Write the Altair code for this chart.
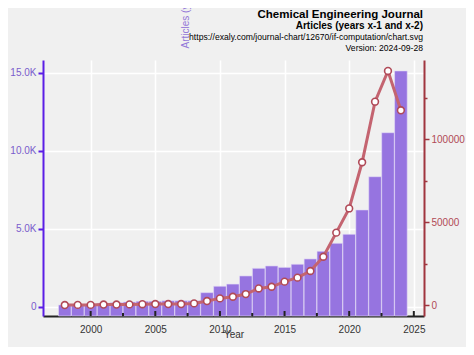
import altair as alt
import pandas as pd

YEARS = list(range(1998, 2025))
ARTICLES = [130, 150, 190, 240, 280, 320, 370, 370, 400, 400, 400, 920, 1330, 1470,
            1990, 2480, 2630, 2540, 2740, 3080, 3570, 4080, 4660, 6220, 8350, 11170, 15130]
CITATIONS = [0, 100, 100, 300, 300, 400, 500, 600, 600, 600, 1000, 2400, 4000, 5000,
             6600, 10000, 11000, 14100, 16500, 20500, 29100, 43600, 58200, 86000,
             122500, 141000, 117300]

X_TICKS = [2000, 2005, 2010, 2015, 2020, 2025]
X_MINOR = [2002.5, 2007.5, 2012.5, 2017.5, 2022.5]
LEFT_TICKS = [0, 5000, 10000, 15000]
RIGHT_TICKS = [0, 25000, 50000, 75000, 100000, 125000]

TITLE = "Chemical Engineering Journal"
SUBTITLE = "Articles (years x-1 and x-2)"
URL = "https://exaly.com/journal-chart/12670/if-computation/chart.svg"
VERSION = "Version: 2024-09-28"

W, H = 381, 256
FONT = "Liberation Sans"
BG = "#f0f0f0"

df = pd.DataFrame({"Year": YEARS, "Articles": ARTICLES, "Citations": CITATIONS})

x_scale = alt.Scale(domain=[1996.7, 2025.4], nice=False, zero=False)
YL_MIN, YL_MAX = -577, 15830
YR_MIN, YR_MAX = -6600, 147600

x_enc = alt.X(
    "Year:Q",
    scale=x_scale,
    axis=alt.Axis(
        values=X_TICKS, format="d", ticks=False, labelPadding=8,
        labelColor="#333333", labelFontSize=10, labelFont=FONT,
        domainColor="#222222", domainWidth=2,
        grid=True, gridColor="white", gridWidth=1.5,
        title="Year", titleFont=FONT, titleFontSize=10, titleFontWeight="normal",
        titleColor="#333333", titleY=21, titleBaseline="alphabetic",
    ),
)

bars = alt.Chart(df).mark_bar(
    color="#9674e0", size=12.6, stroke="#e4dcf6", strokeWidth=0.6
).encode(
    x=x_enc,
    y=alt.Y(
        "Articles:Q",
        scale=alt.Scale(domain=[YL_MIN, YL_MAX], nice=False, zero=False),
        axis=alt.Axis(
            orient="left", values=LEFT_TICKS,
            labelExpr="datum.value == 0 ? '0' : format(datum.value / 1000, '.1f') + 'K'",
            labelColor="#7a5ccc", labelFontSize=10, labelFont=FONT,
            domainColor="#5b1ee6", domainWidth=2,
            tickColor="#5b1ee6", tickSize=5, tickWidth=2,
            grid=True, gridColor="white", gridWidth=1.5,
            title=SUBTITLE, titleFont=FONT, titleFontSize=10, titleFontWeight="normal",
            titleColor="#9478d8", titleAngle=270, titleAlign="left",
            titleBaseline="middle", titleX=142, titleY=-12,
        ),
    ),
    y2=alt.datum(YL_MIN),
)

line = alt.Chart(df).mark_line(
    color="#c46470", strokeWidth=3,
    point=alt.OverlayMarkDef(filled=True, fill="white", stroke="#b04a58",
                             strokeWidth=1.6, size=46, opacity=1),
).encode(
    x=alt.X("Year:Q", scale=x_scale),
    y=alt.Y(
        "Citations:Q",
        scale=alt.Scale(domain=[YR_MIN, YR_MAX], nice=False, zero=False),
        axis=alt.Axis(
            orient="right", values=RIGHT_TICKS, format="d",
            labelExpr="datum.value % 50000 == 0 ? datum.label : ''",
            labelColor="#b04a56", labelFontSize=10, labelFont=FONT,
            domainColor="#a0353f", domainWidth=2,
            tickColor="#a0353f", tickWidth=1.5,
            tickSize={"condition": {"test": "datum.value % 50000 == 0", "value": 5}, "value": 3},
            grid=False, title="",
        ),
    ),
)

major = alt.Chart(pd.DataFrame({"t": X_TICKS})).mark_rule(
    color="#222222", strokeWidth=2
).encode(x=alt.X("t:Q", scale=x_scale), y=alt.value(H), y2=alt.value(H - 5))

minor = alt.Chart(pd.DataFrame({"t": X_MINOR})).mark_rule(
    color="#222222", strokeWidth=2
).encode(x=alt.X("t:Q", scale=x_scale), y=alt.value(H), y2=alt.value(H - 3))


def label(text, y, size, weight):
    return alt.Chart(pd.DataFrame({"s": [text]})).mark_text(
        align="right", baseline="alphabetic", font=FONT, fontSize=size,
        fontWeight=weight, color="#000000",
    ).encode(text="s:N", x=alt.value(W - 1), y=alt.value(y))


texts = [
    label(TITLE, -42.5, 11.5, "bold"),
    label(SUBTITLE, -31.5, 10, "bold"),
    label(URL, -20.5, 8.6, "normal"),
    label(VERSION, -9.5, 8.6, "normal"),
]

chart = alt.layer(bars, line, major, minor, *texts).resolve_scale(
    y="independent"
).properties(
    width=W, height=H,
    autosize=alt.AutoSizeParams(type="none"),
    padding={"left": 35, "top": 52, "right": 42, "bottom": 31},
    background=BG,
).configure_view(fill=BG, stroke=None)

chart.save("out.html", embed_options={"renderer": "svg", "actions": False})
